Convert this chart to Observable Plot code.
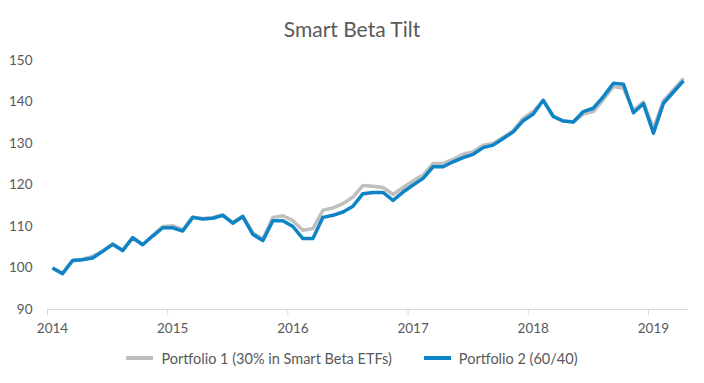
<!DOCTYPE html>
<html>
<head>
<meta charset="utf-8">
<script src="https://cdn.jsdelivr.net/npm/d3@7"></script>
<script src="https://cdn.jsdelivr.net/npm/@observablehq/plot@0.6"></script>
<style>
  html, body { margin: 0; padding: 0; background: #fff; }
  body { width: 704px; height: 383px; overflow: hidden; font-family: Lato, "Open Sans", sans-serif; color: #595959; }
  #title { height: 48px; line-height: 58px; text-align: center; font-size: 21px; color: #595959; }
  #chart svg { display: block; }
  #legend { height: 30px; display: flex; justify-content: center; align-items: center; gap: 32px; font-size: 14.5px; color: #595959; padding-left: 0; }
  .item { display: flex; align-items: center; gap: 8px; }
  .sw { width: 27px; height: 3.5px; }
</style>
</head>
<body>
<div id="title">Smart Beta Tilt</div>
<div id="chart"></div>
<div id="legend"></div>
<script>
// Monthly index values, Jan 2014 .. Apr 2019
const seriesNames = ["Portfolio 1 (30% in Smart Beta ETFs)", "Portfolio 2 (60/40)"];
const seriesColors = ["#bfbfbf", "#0e84c6"];
const yearLabels = ["2014", "2015", "2016", "2017", "2018", "2019"];
const yTicks = [90, 100, 110, 120, 130, 140, 150];

const portfolio1 = [
  100.0, 98.7, 101.8, 102.1, 102.8, 104.1, 105.8, 104.3, 107.3, 105.7, 107.8, 110.0,
  110.2, 109.2, 112.3, 111.9, 112.1, 112.8, 111.0, 112.5, 108.5, 107.0, 112.2, 112.6,
  111.4, 109.1, 109.5, 113.9, 114.5, 115.5, 117.1, 119.9, 119.7, 119.4, 117.7, 119.4,
  121.0, 122.4, 125.2, 125.2, 126.2, 127.4, 128.0, 129.6, 130.0, 131.5, 133.1, 136.1,
  137.7, 140.4, 136.6, 135.4, 135.2, 137.1, 137.7, 140.6, 143.7, 143.3, 138.0, 140.0,
  133.6, 140.3, 143.0, 145.7
];
const portfolio2 = [
  100.0, 98.6, 101.8, 102.0, 102.4, 104.0, 105.7, 104.2, 107.3, 105.6, 107.7, 109.7,
  109.7, 108.9, 112.2, 111.8, 112.0, 112.7, 110.8, 112.4, 108.1, 106.6, 111.4, 111.4,
  110.0, 107.1, 107.1, 112.2, 112.7, 113.5, 114.9, 117.9, 118.2, 118.2, 116.3, 118.3,
  120.0, 121.6, 124.4, 124.4, 125.6, 126.6, 127.4, 129.0, 129.6, 131.2, 132.8, 135.5,
  137.1, 140.4, 136.5, 135.4, 135.2, 137.7, 138.5, 141.3, 144.5, 144.3, 137.4, 139.6,
  132.5, 139.7, 142.4, 145.1
];

const data = [];
seriesNames.forEach((name, s) => {
  const vals = s === 0 ? portfolio1 : portfolio2;
  vals.forEach((v, i) => data.push({ series: name, m: i, value: v }));
});

const labelTicks = yearLabels.map((_, k) => k * 12);
const boundaryTicks = yearLabels.map((_, k) => k * 12 - 0.5);

const chart = Plot.plot({
  width: 704,
  height: 295,
  marginLeft: 47,
  marginRight: 16,
  marginTop: 12,
  marginBottom: 34,
  style: { fontFamily: "Lato, 'Open Sans', sans-serif", fontSize: "13.5px", color: "#595959", background: "#fff" },
  x: { type: "linear", domain: [-0.5, portfolio1.length - 0.5] },
  y: { domain: [90, 150] },
  color: { domain: seriesNames, range: seriesColors },
  marks: [
    Plot.ruleY([90], { stroke: "#d9d9d9", strokeWidth: 1 }),
    Plot.axisX({ ticks: boundaryTicks, tickSize: 6, tickFormat: () => "", stroke: "#d9d9d9", label: null }),
    Plot.axisX({ ticks: labelTicks, tickSize: 0, tickPadding: 14, tickFormat: (d) => yearLabels[d / 12], label: null, fill: "#595959" }),
    Plot.axisY({ ticks: yTicks, tickSize: 0, tickPadding: 15, label: null, fill: "#595959" }),
    Plot.line(data, { x: "m", y: "value", z: "series", stroke: "series", strokeWidth: 3.5, strokeLinejoin: "round", strokeLinecap: "butt" })
  ]
});
document.getElementById("chart").appendChild(chart);

const legend = document.getElementById("legend");
seriesNames.forEach((name, i) => {
  const item = document.createElement("div");
  item.className = "item";
  const sw = document.createElement("div");
  sw.className = "sw";
  sw.style.background = seriesColors[i];
  const t = document.createElement("span");
  t.textContent = name;
  item.appendChild(sw);
  item.appendChild(t);
  legend.appendChild(item);
});
</script>
</body>
</html>
